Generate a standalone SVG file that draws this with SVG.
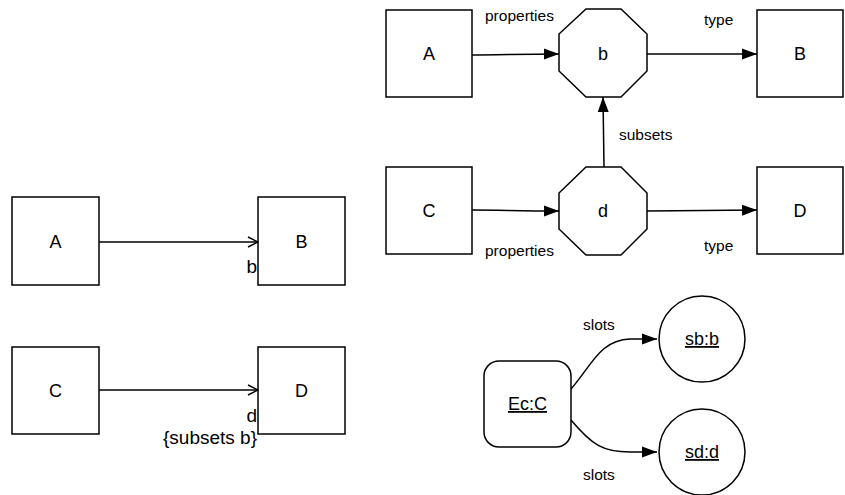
<svg xmlns="http://www.w3.org/2000/svg" width="845" height="495" viewBox="0 0 845 495">
  <style>
    .box { fill: #fff; stroke: #000; stroke-width: 1.5; }
    .edge { fill: none; stroke: #000; stroke-width: 1.5; }
    .lbl { font-family: "Liberation Sans", Arial, sans-serif; font-size: 18px; fill: #000; text-anchor: middle; }
    .elbl { font-family: "Liberation Sans", Arial, sans-serif; font-size: 15.5px; fill: #000; }
    .rlbl { font-family: "Liberation Sans", Arial, sans-serif; font-size: 19px; fill: #000; text-anchor: end; }
    .u { text-decoration: underline; }
  </style>
  <defs>
    <marker id="open" markerWidth="12" markerHeight="12" refX="11" refY="6" orient="auto" markerUnits="userSpaceOnUse">
      <path d="M1,1 L11,6 L1,11" fill="none" stroke="#000" stroke-width="1.5"/>
    </marker>
    <marker id="solid" markerWidth="16" markerHeight="12" refX="15" refY="6" orient="auto" markerUnits="userSpaceOnUse">
      <path d="M0,0.5 L15,6 L0,11.5 Z" fill="#000"/>
    </marker>
  </defs>

  <!-- class diagram: associations -->
  <g id="cls-A"><rect class="box" x="12" y="197" width="87" height="88"/><text class="lbl" x="55.5" y="248">A</text></g>
  <g id="cls-B"><rect class="box" x="258" y="197" width="87" height="88"/><text class="lbl" x="301.5" y="248">B</text></g>
  <g id="cls-C"><rect class="box" x="12" y="347" width="87" height="87"/><text class="lbl" x="55.5" y="397">C</text></g>
  <g id="cls-D"><rect class="box" x="258" y="347" width="87" height="87"/><text class="lbl" x="301.5" y="397">D</text></g>

  <!-- metamodel instances -->
  <g id="inst-A"><rect class="box" x="386" y="10" width="86" height="87"/><text class="lbl" x="429" y="60">A</text></g>
  <g id="inst-b"><polygon class="box" points="586,9 621,9 647,34 647,71 621,97 586,97 559,71 559,34"/><text class="lbl" x="603" y="60">b</text></g>
  <g id="inst-B"><rect class="box" x="757" y="10" width="86" height="87"/><text class="lbl" x="800" y="60">B</text></g>
  <g id="inst-C"><rect class="box" x="386" y="167" width="86" height="87"/><text class="lbl" x="429" y="217">C</text></g>
  <g id="inst-d"><polygon class="box" points="586,167 621,167 647,193 647,229 621,255 586,255 559,229 559,193"/><text class="lbl" x="603" y="217">d</text></g>
  <g id="inst-D"><rect class="box" x="757" y="167" width="86" height="87"/><text class="lbl" x="800" y="217">D</text></g>

  <!-- object diagram -->
  <g id="obj-Ec"><rect class="box" x="484" y="361" width="87" height="86" rx="15"/><text class="lbl u" x="527.5" y="410">Ec:C</text></g>
  <g id="obj-sb"><circle class="box" cx="702" cy="339" r="43"/><text class="lbl u" x="702" y="345">sb:b</text></g>
  <g id="obj-sd"><circle class="box" cx="702" cy="452" r="43"/><text class="lbl u" x="702" y="458">sd:d</text></g>

  <g id="connectors">
    <line class="edge" x1="99" y1="242" x2="258" y2="242" marker-end="url(#open)"/>
    <text class="rlbl" x="257" y="273">b</text>
    <line class="edge" x1="99" y1="390" x2="258" y2="390" marker-end="url(#open)"/>
    <text class="rlbl" x="257" y="422">d</text>
    <text class="rlbl" x="257" y="444">{subsets b}</text>

    <path class="edge" d="M472,55 C500,55 520,54 559,54" marker-end="url(#solid)"/>
    <text class="elbl" x="485" y="21">properties</text>
    <path class="edge" d="M647,54 L757,54" marker-end="url(#solid)"/>
    <text class="elbl" x="704" y="25">type</text>
    <path class="edge" d="M604,167 L603,97" marker-end="url(#solid)"/>
    <text class="elbl" x="619" y="140">subsets</text>
    <path class="edge" d="M472,210 C500,210 520,211 559,211" marker-end="url(#solid)"/>
    <text class="elbl" x="485" y="256">properties</text>
    <path class="edge" d="M647,211 L757,210" marker-end="url(#solid)"/>
    <text class="elbl" x="704" y="251">type</text>

    <path class="edge" d="M571,389 C592,365 600,340 630,339 L657,339" marker-end="url(#solid)"/>
    <text class="elbl" x="583" y="330">slots</text>
    <path class="edge" d="M571,420 C592,445 603,452 630,452 L657,452" marker-end="url(#solid)"/>
    <text class="elbl" x="583" y="480">slots</text>
  </g>
</svg>
